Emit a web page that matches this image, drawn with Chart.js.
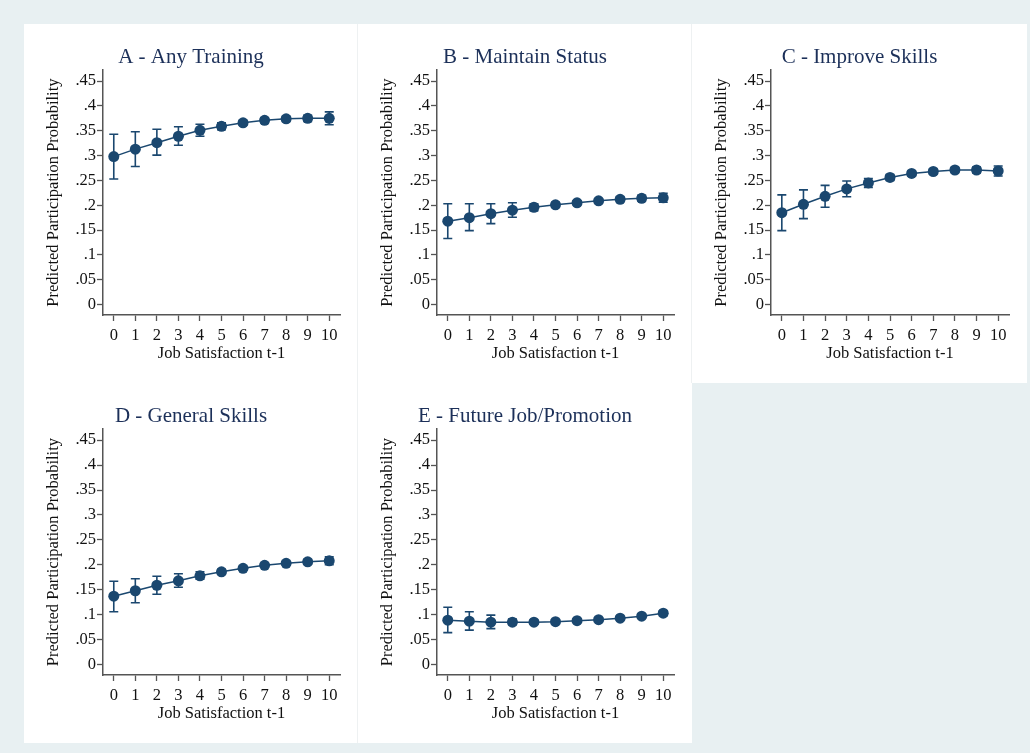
<!DOCTYPE html>
<html>
<head>
<meta charset="utf-8">
<script src="https://cdn.jsdelivr.net/npm/chart.js@4.4.1/dist/chart.umd.min.js"></script>
<style>
  html, body { margin: 0; padding: 0; }
  body { width: 1030px; height: 753px; background: #e8f0f2; position: relative; overflow: hidden; }
  .panel { position: absolute; background: #fff; }
  .panel canvas { display: block; }
  .sep { border-left: 1px solid #eef1f2; }
</style>
</head>
<body>
<div class="panel" style="left:24px;top:24px;width:334px;height:359px"><canvas id="chartA" width="334" height="359"></canvas></div>
<div class="panel sep" style="left:357px;top:24px;width:334px;height:359px"><canvas id="chartB" width="334" height="359"></canvas></div>
<div class="panel sep" style="left:691px;top:24px;width:335px;height:359px"><canvas id="chartC" width="335" height="359"></canvas></div>
<div class="panel" style="left:24px;top:383px;width:334px;height:360px"><canvas id="chartD" width="334" height="360"></canvas></div>
<div class="panel sep" style="left:357px;top:383px;width:334px;height:360px"><canvas id="chartE" width="334" height="360"></canvas></div>
<script>
// job satisfaction levels (x)
const xValues = [0, 1, 2, 3, 4, 5, 6, 7, 8, 9, 10];
const xTicks = [0, 1, 2, 3, 4, 5, 6, 7, 8, 9, 10];
const xTickLabels = ["0", "1", "2", "3", "4", "5", "6", "7", "8", "9", "10"];
const yTicks = [0, 0.05, 0.1, 0.15, 0.2, 0.25, 0.3, 0.35, 0.4, 0.45];
const yTickLabels = ["0", ".05", ".1", ".15", ".2", ".25", ".3", ".35", ".4", ".45"];

// A - Any Training
const aMean = [0.298, 0.313, 0.326, 0.339, 0.351, 0.359, 0.366, 0.371, 0.374, 0.375, 0.375];
const aLow  = [0.253, 0.278, 0.301, 0.321, 0.339, 0.352, 0.361, 0.366, 0.369, 0.369, 0.362];
const aHigh = [0.343, 0.348, 0.353, 0.358, 0.363, 0.366, 0.371, 0.376, 0.379, 0.381, 0.388];

// B - Maintain Status
const bMean = [0.168, 0.175, 0.183, 0.190, 0.196, 0.201, 0.205, 0.209, 0.212, 0.214, 0.215];
const bLow  = [0.133, 0.149, 0.163, 0.176, 0.189, 0.196, 0.201, 0.205, 0.207, 0.208, 0.206];
const bHigh = [0.203, 0.203, 0.203, 0.205, 0.203, 0.206, 0.209, 0.213, 0.217, 0.220, 0.224];

// C - Improve Skills
const cMean = [0.185, 0.202, 0.218, 0.233, 0.245, 0.256, 0.264, 0.268, 0.271, 0.271, 0.269];
const cLow  = [0.149, 0.173, 0.196, 0.217, 0.236, 0.250, 0.259, 0.263, 0.266, 0.265, 0.259];
const cHigh = [0.221, 0.231, 0.240, 0.249, 0.254, 0.262, 0.269, 0.273, 0.276, 0.277, 0.279];

// D - General Skills
const dMean = [0.137, 0.148, 0.159, 0.168, 0.178, 0.186, 0.193, 0.199, 0.203, 0.206, 0.208];
const dLow  = [0.106, 0.124, 0.141, 0.155, 0.171, 0.181, 0.189, 0.195, 0.199, 0.201, 0.200];
const dHigh = [0.167, 0.172, 0.177, 0.182, 0.186, 0.191, 0.197, 0.203, 0.207, 0.211, 0.216];

// E - Future Job/Promotion
const eMean = [0.089, 0.087, 0.085, 0.085, 0.085, 0.086, 0.088, 0.090, 0.093, 0.097, 0.103];
const eLow  = [0.064, 0.069, 0.072, 0.080, 0.081, 0.083, 0.085, 0.087, 0.090, 0.094, 0.098];
const eHigh = [0.115, 0.106, 0.099, 0.091, 0.089, 0.089, 0.091, 0.093, 0.096, 0.101, 0.108];

const navy = "#1a476f";
const serif = "'Liberation Serif', 'DejaVu Serif', serif";

// draws the confidence interval whiskers through the chart scales
const errorBars = {
  id: "errorBars",
  beforeDatasetsDraw(chart, args, opts) {
    const ctx = chart.ctx;
    const xs = chart.scales.x;
    const ys = chart.scales.y;
    ctx.save();
    ctx.strokeStyle = navy;
    ctx.lineWidth = 1.6;
    opts.low.forEach((lo, i) => {
      const px = xs.getPixelForValue(xValues[i]);
      const pLo = ys.getPixelForValue(lo);
      const pHi = ys.getPixelForValue(opts.high[i]);
      ctx.beginPath();
      ctx.moveTo(px, pLo);
      ctx.lineTo(px, pHi);
      ctx.moveTo(px - 4.5, pLo);
      ctx.lineTo(px + 4.5, pLo);
      ctx.moveTo(px - 4.5, pHi);
      ctx.lineTo(px + 4.5, pHi);
      ctx.stroke();
    });
    ctx.restore();
  },
};

function makePanel(id, title, mean, low, high) {
  const ctx = document.getElementById(id).getContext("2d");
  return new Chart(ctx, {
    type: "scatter",
    data: {
      datasets: [
        {
          data: xValues.map((x, i) => ({ x: x, y: mean[i] })),
          showLine: true,
          borderColor: navy,
          borderWidth: 1.5,
          backgroundColor: navy,
          pointRadius: 5.5,
          pointBorderWidth: 0,
          pointBackgroundColor: navy,
          clip: false,
        },
      ],
    },
    options: {
      responsive: false,
      animation: false,
      layout: { padding: { left: 0, right: 0, top: 0, bottom: 19 } },
      plugins: {
        legend: { display: false },
        tooltip: { enabled: false },
        title: {
          display: true,
          text: title,
          color: "#1c3059",
          font: { family: serif, size: 21, weight: "normal", lineHeight: 1.2 },
          padding: { top: 21, bottom: 0 },
        },
        errorBars: { low: low, high: high },
      },
      scales: {
        x: {
          type: "linear",
          min: -0.5,
          max: 10.5,
          afterBuildTicks: (s) => { s.ticks = xTicks.map((v) => ({ value: v })); },
          afterFit: (s) => { s.height = 49; s.paddingRight = 18; s.paddingLeft = 0; },
          ticks: {
            autoSkip: false,
            maxRotation: 0,
            color: "#111",
            padding: 5,
            font: { family: serif, size: 16.5 },
            callback: (v, i) => xTickLabels[i],
          },
          grid: { drawOnChartArea: false, drawTicks: true, tickLength: 6, color: "#555", tickWidth: 1.3 },
          border: { display: true, color: "#555", width: 1.5 },
          title: {
            display: true,
            text: "Job Satisfaction t-1",
            color: "#111",
            font: { family: serif, size: 16.5, lineHeight: 1.2 },
            padding: { top: 0, bottom: 0 },
          },
        },
        y: {
          type: "linear",
          min: -0.021,
          max: 0.472,
          afterBuildTicks: (s) => { s.ticks = yTicks.map((v) => ({ value: v })); },
          afterFit: (s) => { s.width = 79; },
          ticks: {
            color: "#111",
            padding: 1,
            font: { family: serif, size: 16.5 },
            callback: (v, i) => yTickLabels[i],
          },
          grid: { drawOnChartArea: false, drawTicks: true, tickLength: 6, color: "#555", tickWidth: 1.3 },
          border: { display: true, color: "#555", width: 1.5 },
          title: {
            display: true,
            text: "Predicted Participation Probability",
            color: "#111",
            font: { family: serif, size: 16.5, lineHeight: 1.2 },
            padding: { top: 20, bottom: 0 },
          },
        },
      },
    },
    plugins: [errorBars],
  });
}

document.addEventListener("DOMContentLoaded", function () {
  makePanel("chartA", "A - Any Training", aMean, aLow, aHigh);
  makePanel("chartB", "B - Maintain Status", bMean, bLow, bHigh);
  makePanel("chartC", "C - Improve Skills", cMean, cLow, cHigh);
  makePanel("chartD", "D - General Skills", dMean, dLow, dHigh);
  makePanel("chartE", "E - Future Job/Promotion", eMean, eLow, eHigh);
});
</script>
</body>
</html>
